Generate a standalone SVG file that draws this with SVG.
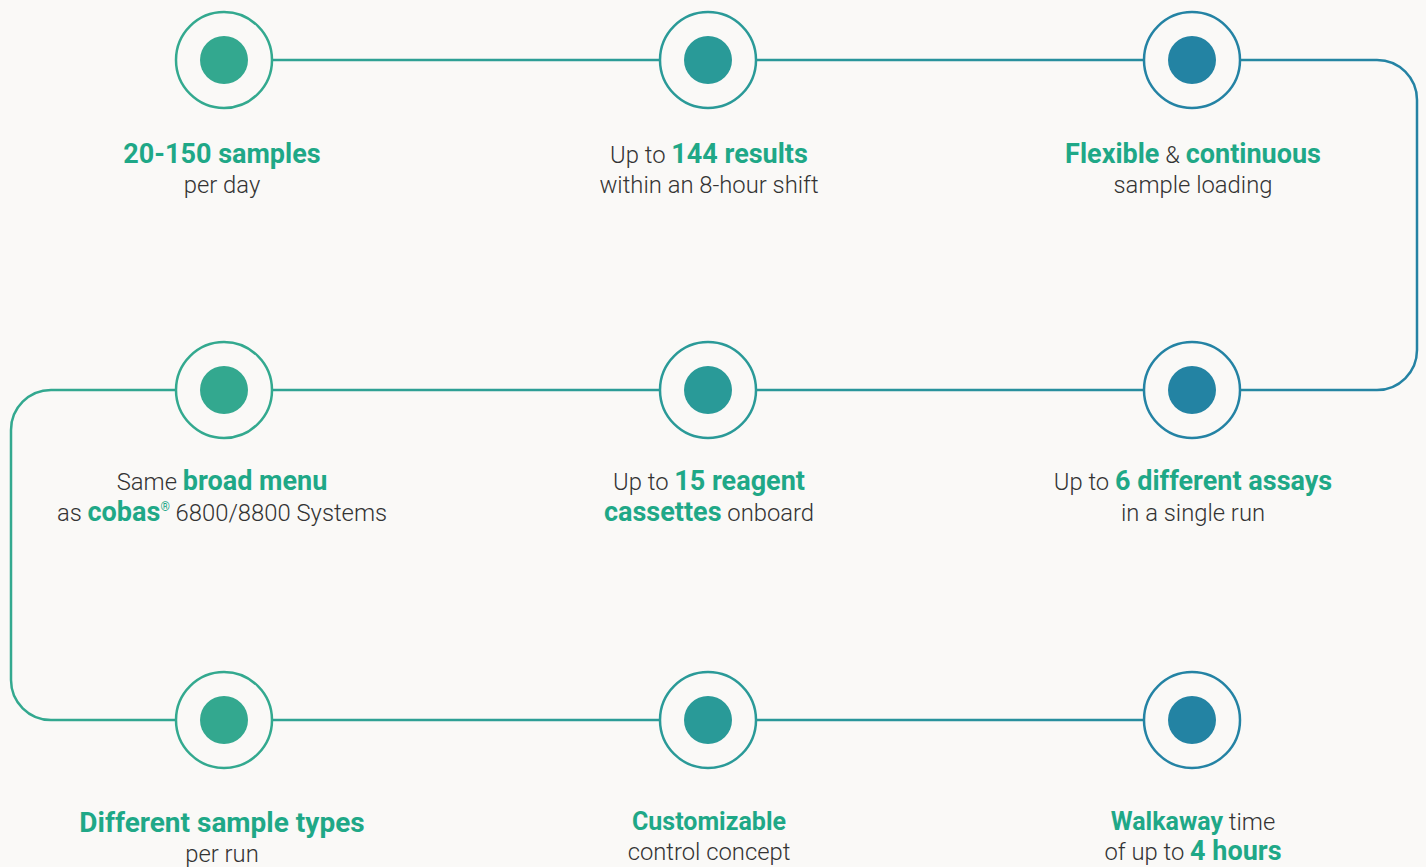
<svg xmlns="http://www.w3.org/2000/svg" width="1426" height="867" viewBox="0 0 1426 867">
<defs>
<linearGradient id="lg" gradientUnits="userSpaceOnUse" x1="0" y1="0" x2="1426" y2="0">
<stop offset="0" stop-color="#33a98f"/>
<stop offset="0.5" stop-color="#2a9a98"/>
<stop offset="1" stop-color="#2482a4"/>
</linearGradient>
<style>
.ln{fill:none;stroke:url(#lg);stroke-width:2.5}
.ring{fill:#faf9f7;stroke-width:2.5}
.t{font-family:Roboto,"Liberation Sans",sans-serif;font-size:23.8px;font-weight:300;fill:#333;text-anchor:middle}
.b{font-weight:700;fill:#1fa887;font-size:27px}
.s{font-size:25px}
</style>
</defs>
<rect width="1426" height="867" fill="#faf9f7"/>
<g id="connectors">
<path class="ln" d="M224 60 H1377 A40 40 0 0 1 1417 100 V350 A40 40 0 0 1 1377 390 H51 A40 40 0 0 0 11 430 V680 A40 40 0 0 0 51 720 H1192"/>
</g>
<g id="n1"><circle class="ring" cx="224" cy="60" r="48" stroke="#33a98f"/><circle cx="224" cy="60" r="24" fill="#33a88f"/>
<text class="t" x="222" y="163"><tspan class="b">20-150 samples</tspan></text><text class="t" x="222" y="193">per day</text></g>
<g id="n2"><circle class="ring" cx="708" cy="60" r="48" stroke="#2a9a98"/><circle cx="708" cy="60" r="24" fill="#299a98"/>
<text class="t" x="709" y="163">Up to <tspan class="b">144 results</tspan></text><text class="t" x="709" y="193">within an 8-hour shift</text></g>
<g id="n3"><circle class="ring" cx="1192" cy="60" r="48" stroke="#2483a4"/><circle cx="1192" cy="60" r="24" fill="#2383a3"/>
<text class="t" x="1193" y="163"><tspan class="b">Flexible</tspan> &amp; <tspan class="b">continuous</tspan></text><text class="t" x="1193" y="193">sample loading</text></g>
<g id="n4"><circle class="ring" cx="1192" cy="390" r="48" stroke="#2483a4"/><circle cx="1192" cy="390" r="24" fill="#2383a3"/>
<text class="t" x="1193" y="490">Up to <tspan class="b">6 different assays</tspan></text><text class="t" x="1193" y="521">in a single run</text></g>
<g id="n5"><circle class="ring" cx="708" cy="390" r="48" stroke="#2a9a98"/><circle cx="708" cy="390" r="24" fill="#299a98"/>
<text class="t" x="709" y="490">Up to <tspan class="b">15 reagent</tspan></text><text class="t" x="709" y="521"><tspan class="b">cassettes</tspan> onboard</text></g>
<g id="n6"><circle class="ring" cx="224" cy="390" r="48" stroke="#33a98f"/><circle cx="224" cy="390" r="24" fill="#33a88f"/>
<text class="t" x="222" y="490">Same <tspan class="b">broad menu</tspan></text><text class="t" x="222" y="521">as <tspan class="b">cobas</tspan><tspan class="b" style="font-size:12px;font-weight:400" dy="-10">®</tspan><tspan dy="10"> 6800/8800 Systems</tspan></text></g>
<g id="n7"><circle class="ring" cx="224" cy="720" r="48" stroke="#33a98f"/><circle cx="224" cy="720" r="24" fill="#33a88f"/>
<text class="t" x="222" y="832"><tspan class="b" style="font-size:28px">Different sample types</tspan></text><text class="t" x="222" y="862">per run</text></g>
<g id="n8"><circle class="ring" cx="708" cy="720" r="48" stroke="#2a9a98"/><circle cx="708" cy="720" r="24" fill="#299a98"/>
<text class="t" x="709" y="830"><tspan class="b s">Customizable</tspan></text><text class="t" x="709" y="860">control concept</text></g>
<g id="n9"><circle class="ring" cx="1192" cy="720" r="48" stroke="#2483a4"/><circle cx="1192" cy="720" r="24" fill="#2383a3"/>
<text class="t" x="1193" y="830"><tspan class="b s">Walkaway</tspan> time</text><text class="t" x="1193" y="860">of up to <tspan class="b">4 hours</tspan></text></g>
</svg>
